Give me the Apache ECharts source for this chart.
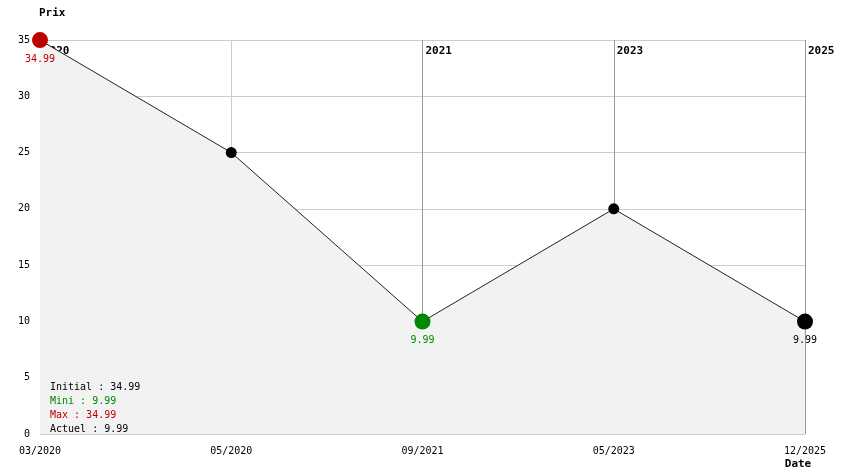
<!DOCTYPE html>
<html>
<head>
<meta charset="utf-8">
<script src="https://cdn.jsdelivr.net/npm/echarts@6/dist/echarts.min.js"></script>
<style>
  html, body { margin: 0; padding: 0; background: #fff; }
  #chart { width: 844px; height: 474px; }
</style>
</head>
<body>
<div id="chart"></div>
<script>
// donnees du graphe
const dates = ['03/2020', '05/2020', '09/2021', '05/2023', '12/2025'];
const years = ['2020', '', '2021', '2023', '2025'];
const prices = [34.99, 25, 9.99, 20, 9.99];
const yTicks = [0, 5, 10, 15, 20, 25, 30, 35];

const RED = '#bb0000';
const GREEN = '#008800';
const FONT = 'DejaVu Sans Mono';

const initial = prices[0];
const actuel = prices[prices.length - 1];
const mini = Math.min(...prices);
const maxi = Math.max(...prices);
const iMax = prices.indexOf(maxi);
const iMin = prices.indexOf(mini);
const iLast = prices.length - 1;

// max en rouge, min en vert, dernier en noir (gros points)
function pointKind(i) {
  if (i === iMax) return 'r';
  if (i === iMin) return 'g';
  if (i === iLast) return 'b';
  return '';
}
const kindColor = { r: RED, g: GREEN, b: '#000', '': '#000' };

const chart = echarts.init(document.getElementById('chart'));
chart.setOption({
  animation: false,
  grid: { left: 40, right: 39, top: 40, bottom: 40 },
  title: {
    left: 50,
    top: 380,
    padding: 0,
    z: 10,
    text: '{b|Initial : ' + initial + '}\n{g|Mini : ' + mini + '}\n{r|Max : ' + maxi + '}\n{b|Actuel : ' + actuel + '}',
    textStyle: {
      fontFamily: FONT,
      fontSize: 10,
      fontWeight: 'normal',
      lineHeight: 14,
      rich: {
        b: { color: '#000', fontFamily: FONT, fontSize: 10, lineHeight: 14 },
        g: { color: GREEN, fontFamily: FONT, fontSize: 10, lineHeight: 14 },
        r: { color: RED, fontFamily: FONT, fontSize: 10, lineHeight: 14 }
      }
    }
  },
  xAxis: [
    {
      type: 'category',
      data: dates,
      boundaryGap: false,
      axisLine: { show: false },
      axisTick: { show: false },
      axisLabel: { color: '#000', fontFamily: FONT, fontSize: 10, margin: 12 },
      splitLine: { show: true, lineStyle: { color: ['#999', '#ccc', '#999', '#999', '#999'], width: 1 } },
      name: 'Date',
      nameLocation: 'end',
      nameGap: -7,
      nameTextStyle: {
        color: '#000', fontFamily: FONT, fontSize: 11, fontWeight: 'bold',
        align: 'center', verticalAlign: 'top', padding: [25, 0, 0, 0]
      }
    },
    {
      type: 'category',
      data: years,
      position: 'top',
      boundaryGap: false,
      axisLine: { show: false },
      axisTick: { show: false },
      splitLine: { show: false },
      axisLabel: {
        inside: true,
        interval: 0,
        color: '#000', fontFamily: FONT, fontSize: 11, fontWeight: 'bold',
        align: 'left', margin: 6, padding: [0, 0, 0, 3]
      }
    }
  ],
  yAxis: {
    type: 'value',
    min: 0,
    max: 35,
    interval: 5,
    axisLine: { show: false },
    axisTick: { show: false },
    axisLabel: {
      color: '#000', fontFamily: FONT, fontSize: 10, margin: 10,
      formatter: v => (yTicks.includes(v) ? String(v) : '')
    },
    splitLine: { lineStyle: { color: '#ccc', width: 1 } },
    name: 'Prix',
    nameLocation: 'end',
    nameGap: 21,
    nameTextStyle: {
      color: '#000', fontFamily: FONT, fontSize: 11, fontWeight: 'bold',
      align: 'left', padding: [0, 0, 0, -1]
    }
  },
  series: [
    {
      type: 'line',
      data: prices,
      symbol: 'circle',
      symbolSize: (v, p) => (pointKind(p.dataIndex) ? 16 : 11),
      itemStyle: { color: p => kindColor[pointKind(p.dataIndex)] },
      lineStyle: { color: '#222', width: 1 },
      areaStyle: { color: '#f2f2f2', opacity: 1 },
      label: {
        show: true,
        position: 'bottom',
        distance: 6,
        formatter: p => {
          const k = pointKind(p.dataIndex);
          return k ? '{' + k + '|' + p.value + '}' : '';
        },
        rich: {
          b: { color: '#000', fontFamily: FONT, fontSize: 10 },
          g: { color: GREEN, fontFamily: FONT, fontSize: 10 },
          r: { color: RED, fontFamily: FONT, fontSize: 10 }
        }
      }
    }
  ]
});
</script>
</body>
</html>
